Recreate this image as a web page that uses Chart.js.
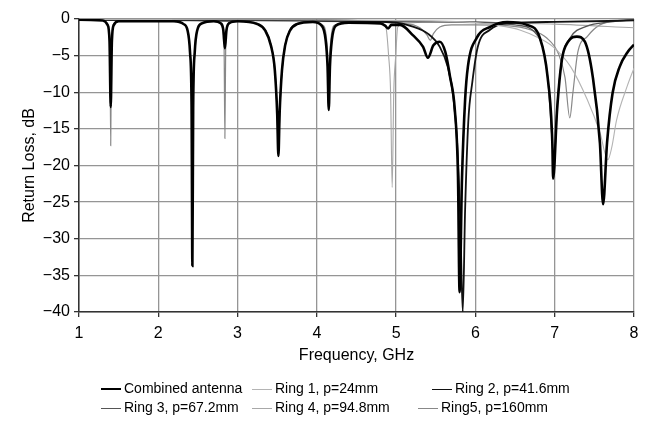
<!DOCTYPE html>
<html>
<head>
<meta charset="utf-8">
<script src="https://cdn.jsdelivr.net/npm/chart.js@4.4.1/dist/chart.umd.min.js"></script>
<style>
  body { margin: 0; background: #fff; }
  #wrap { position: relative; width: 649px; height: 425px; }
  #legend { position: absolute; left: 0; top: 0; font-family: "Liberation Sans", Arial, sans-serif; font-size: 14px; color: #000; }
  .item { position: absolute; white-space: nowrap; line-height: 16px; }
  .dash { display: inline-block; width: 20px; vertical-align: middle; margin-right: 3px; }
</style>
</head>
<body>
<div id="wrap">
  <canvas id="chart" width="649" height="425"></canvas>
  <div id="legend"></div>
</div>
<script>
// Eixos
const xTicks = [1, 2, 3, 4, 5, 6, 7, 8];
const yTicks = [-40, -35, -30, -25, -20, -15, -10, -5, 0];

// Nomes das séries
const seriesNames = ['Combined antenna', 'Ring 1, p=24mm', 'Ring 2, p=41.6mm',
                     'Ring 3, p=67.2mm', 'Ring 4, p=94.8mm', 'Ring5, p=160mm'];

// Antena combinada (frequência em GHz, perda de retorno em dB)
const combinedFreq = [1.0, 1.3, 1.36, 1.385, 1.40, 1.415, 1.44, 1.5, 2.2, 2.32, 2.37, 2.40, 2.42, 2.43, 2.44, 2.46, 2.49, 2.55,
  2.7, 2.79, 2.82, 2.84, 2.86, 2.89, 3.0, 3.25, 3.35, 3.42, 3.47, 3.50, 3.515, 3.53, 3.56, 3.60, 3.66, 3.75,
  3.95, 4.06, 4.11, 4.135, 4.15, 4.165, 4.19, 4.24, 4.4, 4.8, 4.86, 4.9, 4.94, 5.05, 5.21, 5.34, 5.40, 5.47,
  5.55, 5.62, 5.68, 5.74, 5.78, 5.80, 5.83, 5.87, 5.905, 6.02, 6.18, 6.4, 6.65, 6.81, 6.91, 6.97, 6.98, 7.03,
  7.09, 7.17, 7.28, 7.38, 7.48, 7.57, 7.61, 7.66, 7.73, 7.82, 7.92, 8.0];
const combinedDb = [-0.1, -0.2, -0.8, -3, -12, -3, -0.8, -0.3, -0.3, -0.7, -1.6, -4.5, -12, -33.7, -12, -4.5, -1.6, -0.6,
  -0.3, -0.6, -1.5, -4, -1.5, -0.6, -0.3, -0.7, -1.6, -3.6, -7, -13, -18.7, -13, -7, -3.6, -1.6, -0.7,
  -0.4, -0.9, -2.8, -6.5, -12.4, -6.5, -2.8, -0.9, -0.5, -0.6, -0.9, -1.3, -0.8, -0.8, -2.2, -3.8, -5.3, -3.6,
  -3.1, -4.5, -7.9, -12.4, -21.5, -37.3, -22, -11, -6.5, -2.5, -1.1, -0.4, -0.8, -2.5, -7.9, -16.9, -21.8, -12.4,
  -5.6, -3.1, -2.4, -3.1, -7.9, -16.9, -25.3, -16.9, -10.1, -6.5, -4.5, -3.5];

// Anel 1
const ring1Freq = [1.0, 3.0, 5.0, 6.0, 6.3, 6.56, 6.8, 6.98, 7.2, 7.41, 7.57, 7.67, 7.72, 7.78, 7.91, 8.0];
const ring1Db = [-0.05, -0.1, -0.2, -0.5, -0.9, -1.5, -2.6, -3.8, -6.5, -11, -15.5, -19.2, -17.5, -13.8, -9.3, -6.7];

// Anel 2
const ring2Freq = [1.0, 4.0, 5.0, 5.2, 5.4, 5.55, 5.65, 5.72, 5.77, 5.81, 5.84, 5.87, 5.91, 5.96, 6.03, 6.18, 6.4, 7.0, 8.0];
const ring2Db = [-0.1, -0.2, -0.5, -1.0, -2.0, -3.8, -6.5, -10.5, -17, -28, -40, -26, -14, -8.7, -3.8, -1.5, -0.6, -0.4, -0.2];

// Anel 3
const ring3Freq = [1.0, 3.0, 3.25, 3.35, 3.42, 3.47, 3.50, 3.515, 3.53, 3.56, 3.60, 3.66, 3.75, 4.0, 6.0, 6.5, 6.8,
  6.91, 6.97, 6.99, 7.03, 7.09, 7.2, 7.4, 7.7, 8.0];
const ring3Db = [-0.1, -0.3, -0.6, -1.5, -3.5, -7, -13, -18.2, -13, -7, -3.5, -1.5, -0.6, -0.3, -0.4, -0.8, -2.5,
  -7.9, -17, -20, -12, -5.6, -2.5, -1, -0.4, -0.1];

// Anel 4
const ring4Freq = [1.0, 2.0, 2.3, 2.37, 2.40, 2.42, 2.43, 2.44, 2.46, 2.49, 2.56, 3.0, 4.5, 4.8, 4.87, 4.905, 4.93,
  4.95, 4.97, 4.995, 5.02, 5.1, 5.5, 6.0, 7.0, 8.0];
const ring4Db = [-0.1, -0.2, -0.6, -1.5, -4, -12, -30, -12, -4, -1.5, -0.5, -0.2, -0.3, -0.6, -1.1, -5, -10,
  -23, -10, -5, -1.1, -0.6, -0.4, -0.5, -0.7, -1.2];

// Anel 5
const ring5Freq = [1.0, 1.3, 1.37, 1.39, 1.40, 1.41, 1.43, 1.5, 1.8, 2.5, 2.75, 2.81, 2.83, 2.84, 2.85, 2.87, 2.93,
  3.2, 3.9, 4.07, 4.12, 4.14, 4.15, 4.16, 4.18, 4.23, 4.5, 5.1, 5.3, 5.39, 5.43, 5.47, 5.55, 5.7, 6.0, 6.4,
  6.7, 6.9, 7.05, 7.13, 7.19, 7.23, 7.29, 7.41, 7.57, 7.82, 8.0];
const ring5Db = [-0.1, -0.2, -0.8, -3, -17.3, -3, -0.8, -0.3, -0.1, -0.2, -0.4, -1.2, -4, -16.3, -4, -1.2, -0.4,
  -0.2, -0.3, -0.8, -2.5, -6, -11.5, -6, -2.5, -0.8, -0.4, -0.6, -1.2, -2.2, -2.9, -2.0, -1.1, -0.8, -0.8, -0.9,
  -1.5, -2.6, -4.8, -8, -13.5, -10, -4.6, -2.4, -0.8, -0.2, 0];

// Estilos das séries
const seriesColors = ['#000000', '#b4b4b4', '#111111', '#555555', '#a8a8a8', '#888888'];
const seriesWidths = [2.6, 1.1, 1.8, 1.4, 1.1, 1.2];

const fontFamily = '"Liberation Sans", Arial, sans-serif';

// Junta frequência e valor em pontos {x, y}
function toPoints(freq, db) {
  return freq.map((f, i) => ({ x: f, y: db[i] }));
}

const allSeries = [
  toPoints(combinedFreq, combinedDb),
  toPoints(ring1Freq, ring1Db),
  toPoints(ring2Freq, ring2Db),
  toPoints(ring3Freq, ring3Db),
  toPoints(ring4Freq, ring4Db),
  toPoints(ring5Freq, ring5Db)
];

const datasets = allSeries.map((pts, i) => ({
  label: seriesNames[i],
  data: pts,
  borderColor: seriesColors[i],
  borderWidth: seriesWidths[i],
  pointRadius: 0,
  fill: false,
  cubicInterpolationMode: 'monotone'
}));

const ctx = document.getElementById('chart').getContext('2d');
new Chart(ctx, {
  type: 'line',
  data: { datasets: datasets },
  options: {
    animation: false,
    responsive: false,
    devicePixelRatio: 1,
    layout: { padding: { left: 18, top: 19, right: 15, bottom: 60 } },
    plugins: { legend: { display: false }, tooltip: { enabled: false } },
    scales: {
      x: {
        type: 'linear',
        min: 1,
        max: 8,
        afterBuildTicks: scale => { scale.ticks = xTicks.map(v => ({ value: v })); },
        afterFit: scale => { scale.height = 53; },
        ticks: { color: '#000', font: { family: fontFamily, size: 16 }, padding: 7, maxRotation: 0 },
        grid: { color: '#959595', lineWidth: 1.3, tickColor: '#333', tickLength: 5 },
        border: { color: '#333', width: 1.5 },
        title: { display: true, text: 'Frequency, GHz', color: '#000', font: { family: fontFamily, size: 16 }, padding: 0 }
      },
      y: {
        type: 'linear',
        min: -40,
        max: 0,
        afterBuildTicks: scale => { scale.ticks = yTicks.map(v => ({ value: v })); },
        afterFit: scale => { scale.width = 61; },
        ticks: {
          color: '#000',
          font: { family: fontFamily, size: 16 },
          padding: 4,
          callback: v => (v < 0 ? '\u2212' + Math.abs(v) : String(v))
        },
        grid: { color: '#959595', lineWidth: 1.3, tickColor: '#333', tickLength: 5 },
        border: { color: '#333', width: 1.5 },
        title: { display: true, text: 'Return Loss, dB', color: '#000', font: { family: fontFamily, size: 16 }, padding: { top: 2, bottom: 0 } }
      }
    }
  }
});

// Legenda em HTML, duas linhas com três colunas
const legendPos = [[101, 380], [252, 380], [432, 380], [101, 399], [252, 399], [418, 399]];
const legend = document.getElementById('legend');
seriesNames.forEach((name, i) => {
  const item = document.createElement('div');
  item.className = 'item';
  item.style.left = legendPos[i][0] + 'px';
  item.style.top = legendPos[i][1] + 'px';
  const dash = document.createElement('span');
  dash.className = 'dash';
  dash.style.borderTop = (i === 0 ? 2.5 : 1.6) + 'px solid ' + seriesColors[i];
  item.appendChild(dash);
  item.appendChild(document.createTextNode(name));
  legend.appendChild(item);
});
</script>
</body>
</html>
